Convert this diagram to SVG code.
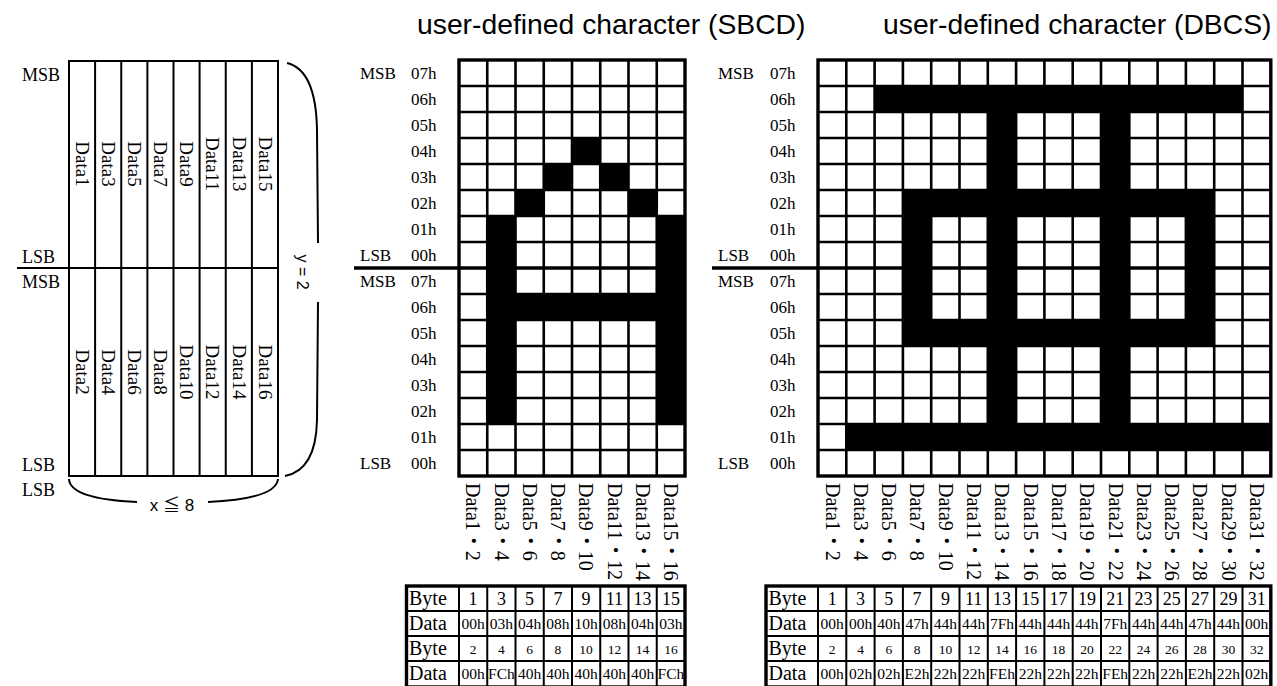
<svg xmlns="http://www.w3.org/2000/svg" width="1277" height="686" viewBox="0 0 1277 686">
<style>
.serif{font-family:"Liberation Serif","Times New Roman","Noto Sans CJK JP",serif;fill:#000}
.sans{font-family:"Liberation Sans",Arial,"Noto Sans CJK JP",sans-serif;fill:#000}
.lbl{font-size:17px}
.rot{font-size:19px}
.tl{font-size:20px}
.tn{font-size:18px;text-anchor:middle}
.th{font-size:15.5px;text-anchor:middle}
.te{font-size:13.5px;text-anchor:middle}
.title{font-size:28.3px}
.gl{stroke:#000;stroke-width:2.6;fill:none}
.ob{stroke:#000;stroke-width:3.4;fill:none}
.thin{stroke:#000;stroke-width:2;fill:none}
.blk{fill:#000}
</style>
<rect width="1277" height="686" fill="#fff"/>

<g id="titles">
<text class="sans title" x="417" y="34">user-defined character (SBCD)</text>
<text class="sans title" x="883" y="34">user-defined character (DBCS)</text>
</g>

<g id="left-diagram">
<rect x="69" y="61" width="209" height="415" fill="#fff" class="thin"/>
<path class="thin" d="M95.1,61V476M121.25,61V476M147.4,61V476M173.5,61V476M199.6,61V476M225.75,61V476M251.9,61V476M17,268H278"/>
<g class="serif lbl" style="font-size:18px">
<text x="22" y="81">MSB</text>
<text x="22" y="263">LSB</text>
<text x="22" y="288">MSB</text>
<text x="22" y="471">LSB</text>
<text x="22" y="496">LSB</text>
</g>
<g class="serif rot" text-anchor="middle">
<text transform="translate(82,164) rotate(90)" dy="0.33em">Data1</text>
<text transform="translate(108.2,164) rotate(90)" dy="0.33em">Data3</text>
<text transform="translate(134.3,164) rotate(90)" dy="0.33em">Data5</text>
<text transform="translate(160.4,164) rotate(90)" dy="0.33em">Data7</text>
<text transform="translate(186.6,164) rotate(90)" dy="0.33em">Data9</text>
<text transform="translate(212.7,164) rotate(90)" dy="0.33em">Data11</text>
<text transform="translate(238.8,164) rotate(90)" dy="0.33em">Data13</text>
<text transform="translate(265,164) rotate(90)" dy="0.33em">Data15</text>
<text transform="translate(82,372) rotate(90)" dy="0.33em">Data2</text>
<text transform="translate(108.2,372) rotate(90)" dy="0.33em">Data4</text>
<text transform="translate(134.3,372) rotate(90)" dy="0.33em">Data6</text>
<text transform="translate(160.4,372) rotate(90)" dy="0.33em">Data8</text>
<text transform="translate(186.6,372) rotate(90)" dy="0.33em">Data10</text>
<text transform="translate(212.7,372) rotate(90)" dy="0.33em">Data12</text>
<text transform="translate(238.8,372) rotate(90)" dy="0.33em">Data14</text>
<text transform="translate(265,372) rotate(90)" dy="0.33em">Data16</text>
</g>
<path class="thin" d="M287,63 Q316,70 317,130 L318,243 M318,302 L317,420 Q316,470 285,476"/>
<text class="sans" font-size="16" text-anchor="middle" transform="translate(303,272) rotate(90)" dy="0.35em">y = 2</text>
<path class="thin" d="M69,479 Q70,499 137,502 M208,502 Q276,499 278,479"/>
<text class="sans" font-size="17" x="172" y="511" text-anchor="middle">x ≦ 8</text>
</g>

<g id="sbcd-grid">
<rect x="459" y="60" width="226" height="416" fill="#fff"/>
<g class="blk">
<rect x="572" y="138" width="28.25" height="26"/>
<rect x="543.75" y="164" width="28.25" height="26"/>
<rect x="600.25" y="164" width="28.25" height="26"/>
<rect x="515.5" y="190" width="28.25" height="26"/>
<rect x="628.5" y="190" width="28.25" height="26"/>
<rect x="487.25" y="216" width="28.25" height="208"/>
<rect x="656.75" y="216" width="28.25" height="208"/>
<rect x="487.25" y="294" width="197.75" height="26"/>
</g>
<path class="gl" d="M487.25,60V476M515.5,60V476M543.75,60V476M572,60V476M600.25,60V476M628.5,60V476M656.75,60V476M459,86H685M459,112H685M459,138H685M459,164H685M459,190H685M459,216H685M459,242H685M459,294H685M459,320H685M459,346H685M459,372H685M459,398H685M459,424H685M459,450H685"/>
<path class="ob" d="M354,268H685"/>
<rect class="ob" x="459" y="60" width="226" height="416"/>
</g>

<g id="sbcd-rows" class="serif lbl">
<text x="360" y="79">MSB</text><text x="411" y="79">07h</text>
<text x="411" y="105">06h</text>
<text x="411" y="131">05h</text>
<text x="411" y="157">04h</text>
<text x="411" y="183">03h</text>
<text x="411" y="209">02h</text>
<text x="411" y="235">01h</text>
<text x="360" y="261">LSB</text><text x="411" y="261">00h</text>
<text x="360" y="287">MSB</text><text x="411" y="287">07h</text>
<text x="411" y="313">06h</text>
<text x="411" y="339">05h</text>
<text x="411" y="365">04h</text>
<text x="411" y="391">03h</text>
<text x="411" y="417">02h</text>
<text x="411" y="443">01h</text>
<text x="360" y="469">LSB</text><text x="411" y="469">00h</text>
</g>

<g id="sbcd-cols" class="serif" font-size="20">
<text transform="translate(473.1,483) rotate(90)" dy="0.33em">Data1・2</text>
<text transform="translate(501.4,483) rotate(90)" dy="0.33em">Data3・4</text>
<text transform="translate(529.6,483) rotate(90)" dy="0.33em">Data5・6</text>
<text transform="translate(557.9,483) rotate(90)" dy="0.33em">Data7・8</text>
<text transform="translate(586.1,483) rotate(90)" dy="0.33em">Data9・10</text>
<text transform="translate(614.4,483) rotate(90)" dy="0.33em">Data11・12</text>
<text transform="translate(642.6,483) rotate(90)" dy="0.33em">Data13・14</text>
<text transform="translate(670.9,483) rotate(90)" dy="0.33em">Data15・16</text>
</g>

<g id="dbcs-grid">
<rect x="818" y="60" width="452.8" height="416" fill="#fff"/>
<g class="blk">
<rect x="874.6" y="86" width="367.9" height="26"/>
<rect x="987.8" y="86" width="28.3" height="364"/>
<rect x="1101" y="86" width="28.3" height="364"/>
<rect x="902.9" y="190" width="311.3" height="26"/>
<rect x="902.9" y="320" width="311.3" height="26"/>
<rect x="902.9" y="190" width="28.3" height="156"/>
<rect x="1185.9" y="190" width="28.3" height="156"/>
<rect x="846.3" y="424" width="424.5" height="26"/>
</g>
<path class="gl" d="M846.3,60V476M874.6,60V476M902.9,60V476M931.2,60V476M959.5,60V476M987.8,60V476M1016.1,60V476M1044.4,60V476M1072.7,60V476M1101,60V476M1129.3,60V476M1157.6,60V476M1185.9,60V476M1214.2,60V476M1242.5,60V476M818,86H1270.8M818,112H1270.8M818,138H1270.8M818,164H1270.8M818,190H1270.8M818,216H1270.8M818,242H1270.8M818,294H1270.8M818,320H1270.8M818,346H1270.8M818,372H1270.8M818,398H1270.8M818,424H1270.8M818,450H1270.8"/>
<path class="ob" d="M712,268H1270.8"/>
<rect class="ob" x="818" y="60" width="452.8" height="416"/>
</g>

<g id="dbcs-rows" class="serif lbl">
<text x="718" y="79">MSB</text><text x="770" y="79">07h</text>
<text x="770" y="105">06h</text>
<text x="770" y="131">05h</text>
<text x="770" y="157">04h</text>
<text x="770" y="183">03h</text>
<text x="770" y="209">02h</text>
<text x="770" y="235">01h</text>
<text x="718" y="261">LSB</text><text x="770" y="261">00h</text>
<text x="718" y="287">MSB</text><text x="770" y="287">07h</text>
<text x="770" y="313">06h</text>
<text x="770" y="339">05h</text>
<text x="770" y="365">04h</text>
<text x="770" y="391">03h</text>
<text x="770" y="417">02h</text>
<text x="770" y="443">01h</text>
<text x="718" y="469">LSB</text><text x="770" y="469">00h</text>
</g>

<g id="dbcs-cols" class="serif" font-size="20">
<text transform="translate(832.2,483) rotate(90)" dy="0.33em">Data1・2</text>
<text transform="translate(860.5,483) rotate(90)" dy="0.33em">Data3・4</text>
<text transform="translate(888.8,483) rotate(90)" dy="0.33em">Data5・6</text>
<text transform="translate(917.1,483) rotate(90)" dy="0.33em">Data7・8</text>
<text transform="translate(945.4,483) rotate(90)" dy="0.33em">Data9・10</text>
<text transform="translate(973.7,483) rotate(90)" dy="0.33em">Data11・12</text>
<text transform="translate(1002,483) rotate(90)" dy="0.33em">Data13・14</text>
<text transform="translate(1030.3,483) rotate(90)" dy="0.33em">Data15・16</text>
<text transform="translate(1058.6,483) rotate(90)" dy="0.33em">Data17・18</text>
<text transform="translate(1086.9,483) rotate(90)" dy="0.33em">Data19・20</text>
<text transform="translate(1115.2,483) rotate(90)" dy="0.33em">Data21・22</text>
<text transform="translate(1143.5,483) rotate(90)" dy="0.33em">Data23・24</text>
<text transform="translate(1171.8,483) rotate(90)" dy="0.33em">Data25・26</text>
<text transform="translate(1200.1,483) rotate(90)" dy="0.33em">Data27・28</text>
<text transform="translate(1228.4,483) rotate(90)" dy="0.33em">Data29・30</text>
<text transform="translate(1256.7,483) rotate(90)" dy="0.33em">Data31・32</text>
</g>

<g id="sbcd-table">
<path class="thin" d="M459,586V686M487.25,586V686M515.5,586V686M543.75,586V686M572,586V686M600.25,586V686M628.5,586V686M656.75,586V686M406.5,611H685M406.5,636H685M406.5,661H685"/>
<rect class="ob" x="406.5" y="586" width="278.5" height="101"/>
<g class="serif">
<text class="tl" x="409" y="605">Byte</text>
<text class="tl" x="409" y="630">Data</text>
<text class="tl" x="409" y="655">Byte</text>
<text class="tl" x="409" y="680">Data</text>
</g>
<g class="serif tn">
<text x="473.1" y="605">1</text><text x="501.4" y="605">3</text><text x="529.6" y="605">5</text><text x="557.9" y="605">7</text><text x="586.1" y="605">9</text><text x="614.4" y="605">11</text><text x="642.6" y="605">13</text><text x="670.9" y="605">15</text>
</g>
<g class="serif th">
<text x="473.1" y="629">00h</text><text x="501.4" y="629">03h</text><text x="529.6" y="629">04h</text><text x="557.9" y="629">08h</text><text x="586.1" y="629">10h</text><text x="614.4" y="629">08h</text><text x="642.6" y="629">04h</text><text x="670.9" y="629">03h</text>
</g>
<g class="serif te">
<text x="473.1" y="654">2</text><text x="501.4" y="654">4</text><text x="529.6" y="654">6</text><text x="557.9" y="654">8</text><text x="586.1" y="654">10</text><text x="614.4" y="654">12</text><text x="642.6" y="654">14</text><text x="670.9" y="654">16</text>
</g>
<g class="serif th">
<text x="473.1" y="679">00h</text><text x="501.4" y="679">FCh</text><text x="529.6" y="679">40h</text><text x="557.9" y="679">40h</text><text x="586.1" y="679">40h</text><text x="614.4" y="679">40h</text><text x="642.6" y="679">40h</text><text x="670.9" y="679">FCh</text>
</g>
</g>

<g id="dbcs-table">
<path class="thin" d="M818,586V686M846.3,586V686M874.6,586V686M902.9,586V686M931.2,586V686M959.5,586V686M987.8,586V686M1016.1,586V686M1044.4,586V686M1072.7,586V686M1101,586V686M1129.3,586V686M1157.6,586V686M1185.9,586V686M1214.2,586V686M1242.5,586V686M766,611H1270.8M766,636H1270.8M766,661H1270.8"/>
<rect class="ob" x="766" y="586" width="504.8" height="101"/>
<g class="serif">
<text class="tl" x="768.5" y="605">Byte</text>
<text class="tl" x="768.5" y="630">Data</text>
<text class="tl" x="768.5" y="655">Byte</text>
<text class="tl" x="768.5" y="680">Data</text>
</g>
<g class="serif tn">
<text x="832.2" y="605">1</text><text x="860.5" y="605">3</text><text x="888.8" y="605">5</text><text x="917.1" y="605">7</text><text x="945.4" y="605">9</text><text x="973.7" y="605">11</text><text x="1002" y="605">13</text><text x="1030.3" y="605">15</text><text x="1058.6" y="605">17</text><text x="1086.9" y="605">19</text><text x="1115.2" y="605">21</text><text x="1143.5" y="605">23</text><text x="1171.8" y="605">25</text><text x="1200.1" y="605">27</text><text x="1228.4" y="605">29</text><text x="1256.7" y="605">31</text>
</g>
<g class="serif th">
<text x="832.2" y="629">00h</text><text x="860.5" y="629">00h</text><text x="888.8" y="629">40h</text><text x="917.1" y="629">47h</text><text x="945.4" y="629">44h</text><text x="973.7" y="629">44h</text><text x="1002" y="629">7Fh</text><text x="1030.3" y="629">44h</text><text x="1058.6" y="629">44h</text><text x="1086.9" y="629">44h</text><text x="1115.2" y="629">7Fh</text><text x="1143.5" y="629">44h</text><text x="1171.8" y="629">44h</text><text x="1200.1" y="629">47h</text><text x="1228.4" y="629">44h</text><text x="1256.7" y="629">00h</text>
</g>
<g class="serif te">
<text x="832.2" y="654">2</text><text x="860.5" y="654">4</text><text x="888.8" y="654">6</text><text x="917.1" y="654">8</text><text x="945.4" y="654">10</text><text x="973.7" y="654">12</text><text x="1002" y="654">14</text><text x="1030.3" y="654">16</text><text x="1058.6" y="654">18</text><text x="1086.9" y="654">20</text><text x="1115.2" y="654">22</text><text x="1143.5" y="654">24</text><text x="1171.8" y="654">26</text><text x="1200.1" y="654">28</text><text x="1228.4" y="654">30</text><text x="1256.7" y="654">32</text>
</g>
<g class="serif th">
<text x="832.2" y="679">00h</text><text x="860.5" y="679">02h</text><text x="888.8" y="679">02h</text><text x="917.1" y="679">E2h</text><text x="945.4" y="679">22h</text><text x="973.7" y="679">22h</text><text x="1002" y="679">FEh</text><text x="1030.3" y="679">22h</text><text x="1058.6" y="679">22h</text><text x="1086.9" y="679">22h</text><text x="1115.2" y="679">FEh</text><text x="1143.5" y="679">22h</text><text x="1171.8" y="679">22h</text><text x="1200.1" y="679">E2h</text><text x="1228.4" y="679">22h</text><text x="1256.7" y="679">02h</text>
</g>
</g>
</svg>
